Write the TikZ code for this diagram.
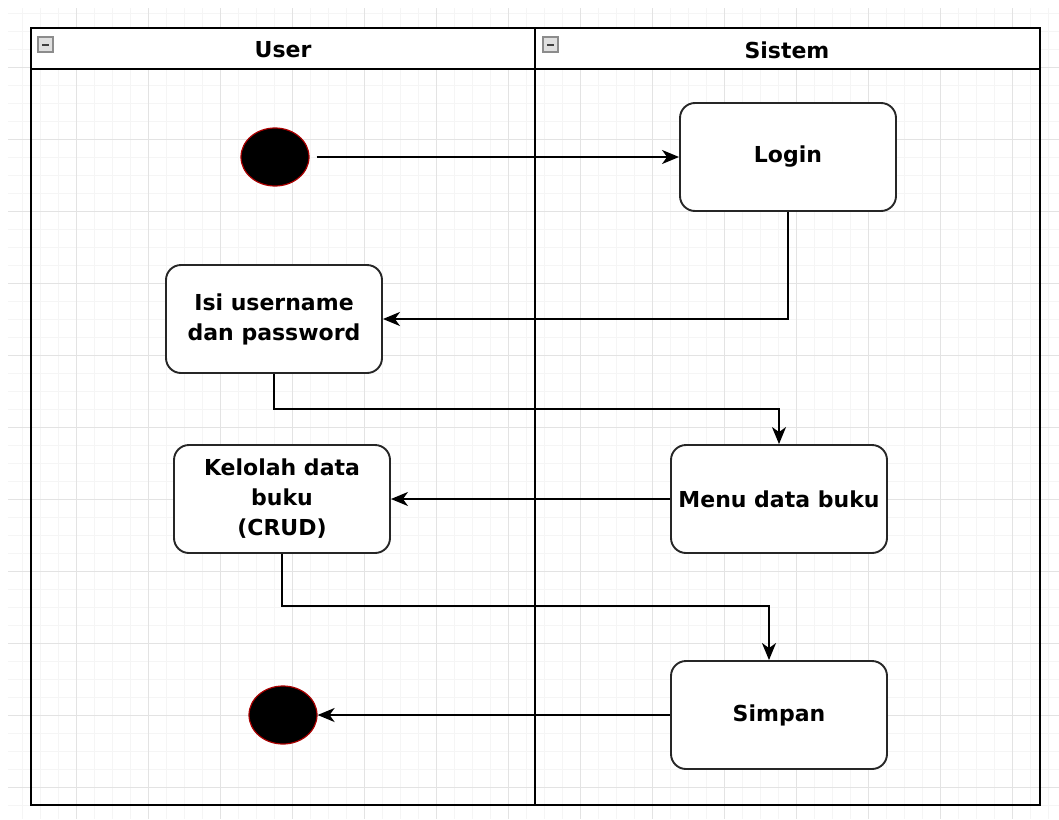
\documentclass[tikz,border=0pt]{standalone}
\usepackage{fontspec}
\setmainfont{DejaVu Sans}
\usetikzlibrary{arrows.meta,shapes.geometric}
\definecolor{dotrim}{RGB}{170,0,0}

\begin{document}
\begin{tikzpicture}[x=1pt,y=-1pt]
    \tikzstyle{act}=[draw=black!85,line width=1.9pt,rounded corners=15pt,minimum width=216pt,minimum height=108pt,align=center,fill=white,font=\fontsize{22}{30}\selectfont\bfseries]
    \tikzstyle{dot}=[ellipse,draw=dotrim,line width=1.2pt,fill=black,minimum width=68pt,minimum height=58pt,inner sep=0pt]
    \tikzstyle{flow}=[-{Stealth[length=17pt,width=14pt,inset=5pt]},line width=1.9pt]
    \tikzstyle{lane}=[line width=2.3pt]
    \tikzstyle{title}=[font=\fontsize{22}{26}\selectfont\bfseries]
    \useasboundingbox (0,0) rectangle (1059,819);
    \begin{scope}
      \clip (8,8) rectangle (1059,819);
      \foreach \x in {4,22,...,1059} \draw[black!4] (\x,0) -- (\x,819);
      \foreach \y in {-5,13,...,819} \draw[black!4] (0,\y) -- (1059,\y);
      \foreach \x in {4,76,...,1059} \draw[black!11] (\x,0) -- (\x,819);
      \foreach \y in {-5,67,...,819} \draw[black!11] (0,\y) -- (1059,\y);
    \end{scope}
    \draw[lane,fill=white] (31,28) rectangle (1040,69);
    \draw[lane] (31,28) rectangle (1040,805);
    \draw[lane] (535,28) -- (535,805);
    \foreach \x in {38,543} {
      \draw[black!45,line width=1.2pt,fill=black!12] (\x,37) rectangle ++(15,15);
      \draw[black!75,line width=2pt] (\x+4,44.5) -- ++(7,0);
    }
    \node[title] (user) at (283,50) {User};
    \node[title] (sistem) at (787,50) {Sistem};
    \node[dot] (start) at (275,157) {};
    \node[act] (login) at (788,157) {Login};
    \node[act] (isi) at (274,319) {Isi username\\dan password};
    \node[act] (menu) at (779,499) {Menu data buku};
    \node[act] (kelola) at (282,499) {Kelolah data\\buku\\(CRUD)};
    \node[act] (simpan) at (779,715) {Simpan};
    \node[dot] (end) at (283,715) {};
    \draw[flow,shorten <=7pt] (start) -- (login);
    \draw[flow] (login.south) |- (isi.east);
    \draw[flow] (isi.south) -- ++(0,35) -| (menu.north);
    \draw[flow] (menu.west) -- (kelola.east);
    \draw[flow] (kelola.south) -- ++(0,52) -| ([xshift=-10pt]simpan.north);
    \draw[flow] (simpan.west) -- (end);
\end{tikzpicture}
\end{document}
